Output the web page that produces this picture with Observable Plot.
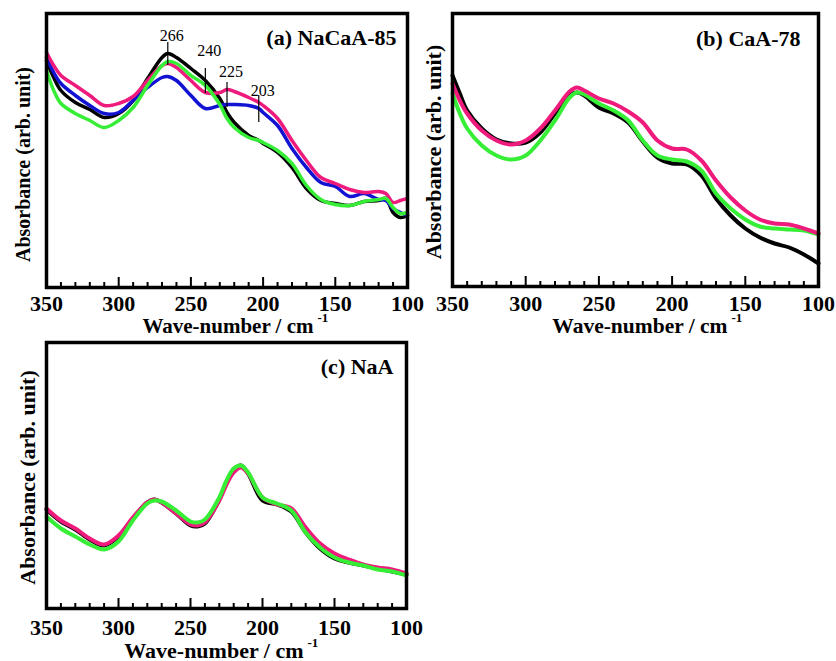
<!DOCTYPE html>
<html><head><meta charset="utf-8">
<script src="https://cdn.jsdelivr.net/npm/d3@7"></script>
<script src="https://cdn.jsdelivr.net/npm/@observablehq/plot@0.6"></script>
<style>
body{margin:0;background:#fff;}
#chart{position:relative;width:836px;height:661px;background:#fff;overflow:hidden;}
.panel{position:absolute;}
.panel svg{overflow:visible;font-family:"Liberation Serif","Times New Roman",serif;}
.panel svg text{font-family:"Liberation Serif","Times New Roman",serif;}
</style></head><body><div id="chart"></div>
<script>
// ---------- data (absorbance, arbitrary units) ----------
const seriesNames = ["sample 1", "sample 2", "sample 3", "sample 4"];
const seriesColors = ["#000000", "#1212d2", "#ee1a7c", "#36ee36"];

// (a) NaCaA-85
const wnA = [350,345,340,330,320,310,300,290,280,270,266,260,250,240,230,225,220,210,203,200,190,180,170,160,150,140,130,120,115,110,105,100];
const aS1 = [227,210,197,185,178,170,174,187,209,230,234,230,219,207,189,175,165,152,147,144,135,120,99,87,84,82,86,87,89,75,70,72];
const aS2 = [230,215,204,192,182,174,175,187,200,210,211,207,192,179,182,183,183,182,179,175,162,139,120,105,101,91,94,88,87,79,75,72];
const aS3 = [235,222,212,202,192,182,184,191,207,222,224,220,207,195,195,198,196,190,185,182,169,147,127,110,104,98,95,96,94,85,87,89];
const aS4 = [217,197,184,174,167,160,167,180,202,222,226,224,212,202,183,169,160,150,147,145,137,124,102,88,83,82,86,88,89,80,74,75];
// peak annotations in (a)
const annotWn = [266, 240, 225, 203];
const annotLow = [222, 194, 180, 165];
const annotHigh = [245, 219, 205, 192];
const annotLabelY = [247, 232, 211, 192];

// (b) CaA-78
const wnB = [350,345,340,330,320,310,300,290,280,270,265,260,250,240,230,220,210,200,190,180,170,160,150,140,130,120,110,100];
const bS1 = [211,193,176,158,147,143,144,154,173,191,194,191,179,173,164,145,129,123,122,111,88,71,58,49,43,39,32,23];
const bS3 = [203,186,173,156,146,142,146,158,176,195,199,196,188,183,175,164,146,138,137,126,106,89,76,67,63,62,58,53];
const bS4 = [193,173,158,141,131,127,131,146,166,189,194,192,183,176,166,146,131,127,125,116,93,78,67,60,58,57,56,52];

// (c) NaA
const wnC = [350,340,330,320,310,300,290,280,275,270,260,250,245,240,230,225,220,215,210,200,190,180,170,160,150,140,130,120,110,100];
const cS1 = [99,87,79,69,63,72,90,106,109,106,95,83,82,85,109,126,139,143,135,108,104,97,76,60,50,46,43,40,37,34];
const cS3 = [100,88,80,70,64,73,91,106,109,106,95,84,83,86,108,124,136,141,135,111,104,100,81,65,55,49,44,41,39,35];
const cS4 = [92,80,72,64,59,67,88,105,108,107,98,87,86,89,111,128,140,143,136,111,105,98,76,61,51,46,43,39,37,33];

const majorTicks = [350, 300, 250, 200, 150, 100];
const minorTicks = [340,330,320,310,290,280,270,260,240,230,220,210,190,180,170,160,140,130,120,110];
const yLabel = "Absorbance (arb. unit)";
const xLabel = "Wave-number / cm";
const xLabelSup = "-1";

// ---------- helpers ----------
const FONT = "Liberation Serif";
function rows(wn, list) {
  const out = [];
  for (const [name, vals] of list) wn.forEach((w, i) => out.push({wn: w, value: vals[i], series: name}));
  return out;
}

function panel(cfg) {
  const marks = [
    Plot.line(cfg.rows, {x: "wn", y: "value", z: "series", stroke: "series", curve: "catmull-rom", strokeWidth: cfg.lw}),
    Plot.frame({strokeWidth: 3.5}),
    Plot.ruleX(minorTicks, {x: d => d, y1: 0, y2: 5, strokeWidth: 2}),
    Plot.ruleX(majorTicks, {x: d => d, y1: 0, y2: 10, strokeWidth: 2}),
    Plot.text(majorTicks, {x: d => d, text: d => String(d), frameAnchor: "bottom", lineAnchor: "bottom", dy: cfg.tickDy, fontSize: 22, fontWeight: "bold", fontFamily: FONT}),
    Plot.text([cfg.title], {frameAnchor: "top-right", textAnchor: "end", lineAnchor: "bottom", dx: cfg.titleDx, dy: cfg.titleDy, fontSize: 22, fontWeight: "bold", fontFamily: FONT}),
    Plot.text([yLabel], {frameAnchor: "left", rotate: -90, textAnchor: "middle", lineAnchor: "middle", dx: cfg.ylDx, dy: cfg.ylDy, fontSize: cfg.ylSize, fontWeight: "bold", fontFamily: FONT}),
    Plot.text([xLabel], {frameAnchor: "bottom", textAnchor: "end", lineAnchor: "bottom", dx: cfg.xlDx, dy: cfg.xlDy, fontSize: cfg.xlSize, fontWeight: "bold", fontFamily: FONT}),
    Plot.text([xLabelSup], {frameAnchor: "bottom", textAnchor: "start", lineAnchor: "bottom", dx: cfg.xlDx + 4, dy: cfg.xlDy - 11, fontSize: 13, fontWeight: "bold", fontFamily: FONT}),
    ...(cfg.extra || [])
  ];
  const svg = Plot.plot({
    width: cfg.width, height: cfg.height,
    marginLeft: cfg.ml, marginRight: cfg.mr, marginTop: cfg.mt, marginBottom: cfg.mb,
    style: {fontFamily: FONT, background: "transparent", overflow: "visible", color: "black"},
    x: {domain: [350, 100], axis: null},
    y: {domain: [0, cfg.yMax], axis: null},
    color: {domain: seriesNames, range: seriesColors},
    marks
  });
  const div = document.createElement("div");
  div.className = "panel";
  div.style.left = cfg.left + "px";
  div.style.top = cfg.top + "px";
  div.style.width = cfg.width + "px";
  div.appendChild(svg);
  document.getElementById("chart").appendChild(div);
}

const annot = annotWn.map((w, i) => ({wn: w, lo: annotLow[i], hi: annotHigh[i], ly: annotLabelY[i]}));

panel({
  left: 0, top: 0, width: 420, height: 345, ml: 46, mr: 13, mt: 13, mb: 58, yMax: 274,
  rows: rows(wnA, [["sample 1", aS1], ["sample 2", aS2], ["sample 3", aS3], ["sample 4", aS4]]),
  lw: 3.5, title: "(a) NaCaA-85", titleDx: -11, titleDy: 31, tickDy: 23,
  ylDx: -23, ylDy: 14, ylSize: 20, xlDx: 86.5, xlDy: 45, xlSize: 21,
  extra: [
    Plot.ruleX(annot, {x: "wn", y1: "lo", y2: "hi", strokeWidth: 1.2}),
    Plot.text(annot, {x: "wn", y: "ly", text: d => String(d.wn), dx: 4, lineAnchor: "bottom", fontSize: 16, fontFamily: FONT})
  ]
});

panel({
  left: 410, top: 0, width: 426, height: 345, ml: 42, mr: 18, mt: 13, mb: 59, yMax: 273,
  rows: rows(wnB, [["sample 1", bS1], ["sample 4", bS4], ["sample 3", bS3]]),
  lw: 4, title: "(b) CaA-78", titleDx: -18, titleDy: 32, tickDy: 24,
  ylDx: -19, ylDy: 2, ylSize: 22, xlDx: 92, xlDy: 46, xlSize: 21.5
});

panel({
  left: 0, top: 330, width: 420, height: 331, ml: 46, mr: 14, mt: 12, mb: 53, yMax: 266,
  rows: rows(wnC, [["sample 1", cS1], ["sample 3", cS3], ["sample 4", cS4]]),
  lw: 4, title: "(c) NaA", titleDx: -13, titleDy: 31, tickDy: 26,
  ylDx: -19, ylDy: 2, ylSize: 22, xlDx: 77, xlDy: 49, xlSize: 22
});
</script></body></html>
